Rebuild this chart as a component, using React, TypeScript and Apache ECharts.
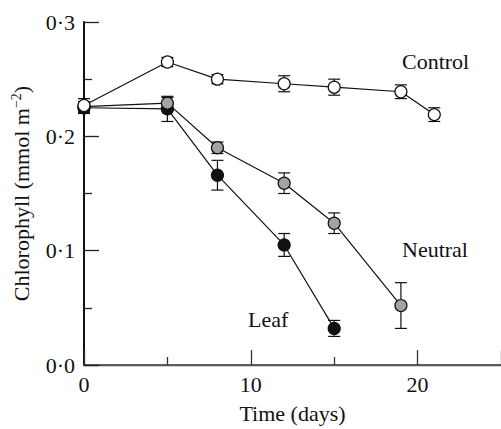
import React, { useEffect, useRef } from "react";
import * as echarts from "echarts";

const controlDays = [0, 5, 8, 12, 15, 19, 21];
const controlMean = [0.227, 0.265, 0.25, 0.246, 0.243, 0.239, 0.219];
const controlErr = [0.006, 0.004, 0.004, 0.007, 0.007, 0.006, 0.006];

const neutralDays = [0, 5, 8, 12, 15, 19];
const neutralMean = [0.226, 0.229, 0.19, 0.159, 0.124, 0.052];
const neutralErr = [0.004, 0.005, 0.005, 0.009, 0.009, 0.02];

const leafDays = [0, 5, 8, 12, 15];
const leafMean = [0.225, 0.224, 0.166, 0.105, 0.032];
const leafErr = [0.005, 0.011, 0.013, 0.01, 0.007];

const seriesNames = ["Control", "Neutral", "Leaf"];
const xTicks = [0, 10, 20];
const yTicks = [0, 0.1, 0.2, 0.3];

const FONT = "Liberation Serif";
const FS = 22;

function pairs(days: number[], mean: number[]) {
  return days.map((d, i) => [d, mean[i]]);
}
function errs(days: number[], mean: number[], err: number[]) {
  return days.map((d, i) => [d, mean[i] - err[i], mean[i] + err[i]]);
}

export default function App() {
  const ref = useRef<HTMLDivElement>(null);
  useEffect(() => {
    if (!ref.current) return;
    const chart = echarts.init(ref.current, null, { renderer: "svg" });
    const errRender = (params: any, api: any) => {
      const x = api.value(0);
      const lo = api.coord([x, api.value(1)]);
      const hi = api.coord([x, api.value(2)]);
      const hw = 6;
      const style = { stroke: "#111", lineWidth: 1.2 };
      return {
        type: "group",
        children: [
          { type: "line", shape: { x1: lo[0], y1: lo[1], x2: hi[0], y2: hi[1] }, style },
          { type: "line", shape: { x1: lo[0] - hw, y1: lo[1], x2: lo[0] + hw, y2: lo[1] }, style },
          { type: "line", shape: { x1: hi[0] - hw, y1: hi[1], x2: hi[0] + hw, y2: hi[1] }, style },
        ],
      };
    };
    const lineSeries = (name: string, data: number[][], fill: string) => ({
      name,
      type: "line",
      data,
      z: 5,
      symbol: "circle",
      symbolSize: 12,
      lineStyle: { color: "#111", width: 1.2 },
      itemStyle: { color: fill, borderColor: "#111", borderWidth: 1.2 },
    });
    const errSeries = (data: number[][]) => ({
      type: "custom",
      data,
      z: 3,
      renderItem: errRender,
    });
    const fmtY = (v: number) => v.toFixed(1).replace(".", "·");
    const txt = (text: string, x: number, y: number) => ({
      type: "text",
      x,
      y,
      style: { text, fontFamily: FONT, fontSize: FS, fill: "#111", textVerticalAlign: "middle" },
    });
    chart.setOption({
      animation: false,
      grid: { left: 84, right: 0, top: 22, bottom: 60, containLabel: false },
      xAxis: [
        {
          type: "value",
          min: 0,
          max: 25,
          interval: 10,
          name: "Time (days)",
          nameLocation: "middle",
          nameGap: 37,
          nameTextStyle: { fontFamily: FONT, fontSize: FS, color: "#111" },
          axisLine: { show: true, onZero: false, lineStyle: { color: "#333", width: 1.5 } },
          axisTick: { show: true, inside: true, length: 15, lineStyle: { color: "#333", width: 1.3 } },
          minorTick: { show: true, splitNumber: 2, length: 8, lineStyle: { color: "#333", width: 1.3 } },
          splitLine: { show: false },
          axisLabel: {
            fontFamily: FONT,
            fontSize: FS,
            color: "#111",
            margin: 8,
            showMaxLabel: false,
            formatter: (v: number) => (xTicks.includes(v) ? String(v) : ""),
          },
        },
        {
          type: "value",
          position: "top",
          min: 0,
          max: 25,
          axisLine: { show: true, lineStyle: { color: "#555", width: 1.3 } },
          axisTick: { show: false },
          axisLabel: { show: false },
          splitLine: { show: false },
        },
      ],
      yAxis: {
        type: "value",
        min: 0,
        max: 0.3,
        interval: 0.1,
        name: "Chlorophyll (mmol m{sup|−2})",
        nameLocation: "middle",
        nameGap: 50,
        nameRotate: 90,
        nameTextStyle: {
          fontFamily: FONT,
          fontSize: FS,
          color: "#111",
          rich: {
            sup: { fontFamily: FONT, fontSize: 14, color: "#111", padding: [0, 0, 11, 0] },
          },
        },
        axisLine: { show: true, lineStyle: { color: "#111", width: 2 } },
        axisTick: { show: true, inside: true, length: 15, lineStyle: { color: "#222", width: 1.3 } },
        minorTick: { show: true, splitNumber: 2, length: 8, lineStyle: { color: "#222", width: 1.3 } },
        splitLine: { show: false },
        axisLabel: {
          fontFamily: FONT,
          fontSize: FS,
          color: "#111",
          margin: 9,
          formatter: (v: number) => (yTicks.some((t) => Math.abs(t - v) < 1e-9) ? fmtY(v) : ""),
        },
      },
      graphic: [
        txt(seriesNames[0], 402, 61),
        txt(seriesNames[1], 402, 249),
        txt(seriesNames[2], 248, 319),
      ],
      series: [
        errSeries(errs(controlDays, controlMean, controlErr)),
        errSeries(errs(neutralDays, neutralMean, neutralErr)),
        errSeries(errs(leafDays, leafMean, leafErr)),
        lineSeries(seriesNames[2], pairs(leafDays, leafMean), "#111"),
        lineSeries(seriesNames[1], pairs(neutralDays, neutralMean), "#a3a3a3"),
        lineSeries(seriesNames[0], pairs(controlDays, controlMean), "#ffffff"),
      ],
    });
    return () => chart.dispose();
  }, []);
  return (
    <div
      ref={ref}
      style={{ position: "fixed", left: 0, top: 0, width: 501, height: 429, background: "#fff" }}
    />
  );
}
